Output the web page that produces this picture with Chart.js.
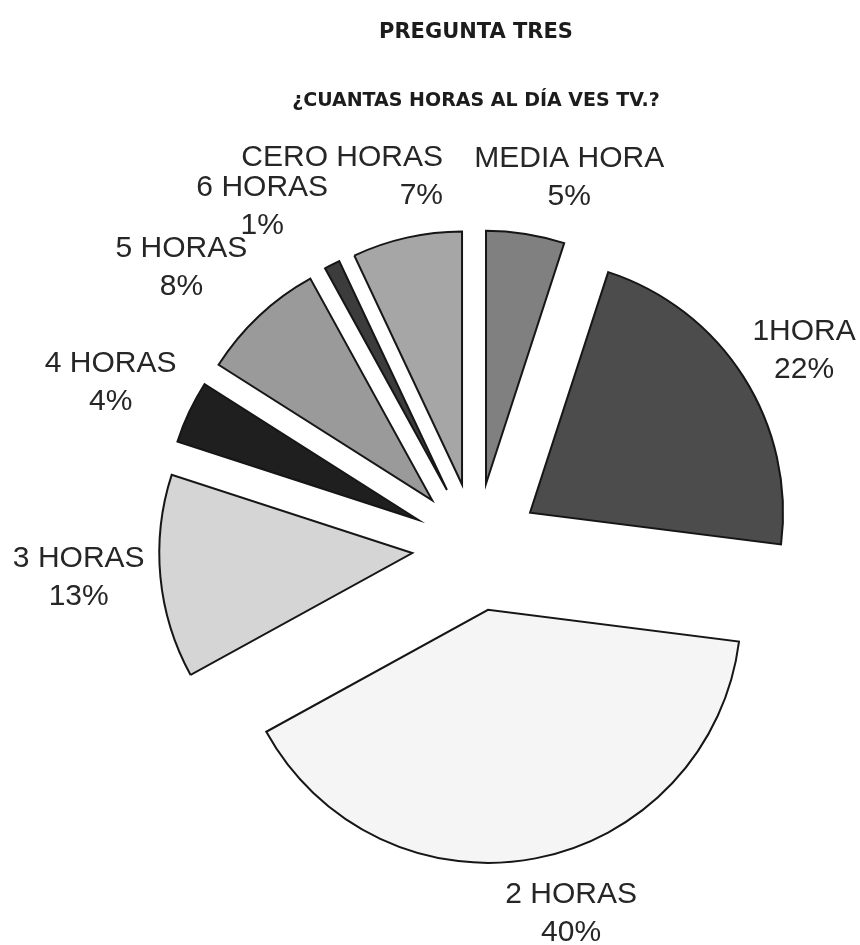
<!DOCTYPE html>
<html lang="es">
<head>
<meta charset="utf-8">
<title>Pregunta tres</title>
<script src="https://cdn.jsdelivr.net/npm/chart.js@4.4.1/dist/chart.umd.min.js"></script>
<style>
  html, body { margin: 0; padding: 0; background: #fff; }
  #wrap { width: 860px; height: 945px; }
</style>
</head>
<body>
<div id="wrap"><canvas id="tv-chart" width="860" height="945"></canvas></div>
<script>
// Respuestas: horas de TV al día (porcentaje de encuestados)
const categorias = ['MEDIA HORA', '1HORA', '2 HORAS', '3 HORAS', '4 HORAS', '5 HORAS', '6 HORAS', 'CERO HORAS'];
const porcentajes = [5, 22, 40, 13, 4, 8, 1, 7];

// Tonos de gris de cada porción
const colores = ['#808080', '#4c4c4c', '#f5f5f5', '#d5d5d5', '#1f1f1f', '#9a9a9a', '#3c3c3c', '#a6a6a6'];

const SEPARACION = 64;   // cuánto se separa cada porción del centro
const DIST_ETIQUETA = 385;
const ALTO_LINEA = 38;

// Ajuste fino de cada etiqueta respecto a su posición sobre la bisectriz
const ajusteEtiquetas = [
  { dx: 33, dy: 11 },                  // MEDIA HORA
  { dx: 3, dy: 10 },                   // 1HORA
  { dx: 23, dy: -11 },                 // 2 HORAS
  { dx: -14, dy: -5 },                 // 3 HORAS
  { dx: -17, dy: 0 },                  // 4 HORAS
  { dx: -31, dy: 1 },                  // 5 HORAS
  { dx: -39, dy: 3 },                  // 6 HORAS
  { dx: 51, dy: 5, align: 'right' }    // CERO HORAS
];

// Dibuja cada porción desplazada hacia afuera (pastel separado)
const porcionesSeparadas = {
  id: 'porcionesSeparadas',
  beforeDatasetDraw(chart, args) {
    const ctx = chart.ctx;
    args.meta.data.forEach(arc => {
      const mitad = (arc.startAngle + arc.endAngle) / 2;
      ctx.save();
      ctx.translate(Math.cos(mitad) * SEPARACION, Math.sin(mitad) * SEPARACION);
      arc.draw(ctx);
      ctx.restore();
    });
    return false;
  }
};

// Etiquetas de categoría y porcentaje alrededor del pastel
const etiquetasPorcion = {
  id: 'etiquetasPorcion',
  afterDatasetsDraw(chart) {
    const ctx = chart.ctx;
    const meta = chart.getDatasetMeta(0);
    ctx.save();
    ctx.font = '30px "Liberation Sans", Arial, sans-serif';
    ctx.fillStyle = '#262626';
    ctx.textBaseline = 'middle';
    meta.data.forEach((arc, i) => {
      const mitad = (arc.startAngle + arc.endAngle) / 2;
      const aj = ajusteEtiquetas[i];
      const x = arc.x + Math.cos(mitad) * DIST_ETIQUETA + aj.dx;
      const y = arc.y + Math.sin(mitad) * DIST_ETIQUETA + aj.dy;
      ctx.textAlign = aj.align || 'center';
      ctx.fillText(categorias[i], x, y - ALTO_LINEA / 2);
      ctx.fillText(porcentajes[i] + '%', x, y + ALTO_LINEA / 2);
    });
    ctx.restore();
  }
};

new Chart(document.getElementById('tv-chart'), {
  type: 'pie',
  data: {
    labels: categorias,
    datasets: [{
      data: porcentajes,
      backgroundColor: colores,
      borderColor: '#161616',
      borderWidth: 2,
      borderJoinStyle: 'miter'
    }]
  },
  options: {
    responsive: false,
    animation: false,
    radius: 253,
    layout: {
      padding: { left: 92, right: 0, top: 0, bottom: 0 }
    },
    plugins: {
      legend: { display: false },
      tooltip: { enabled: false },
      title: {
        display: true,
        text: 'PREGUNTA TRES',
        color: '#1c1c1c',
        font: { family: 'DejaVu Sans', size: 21, weight: 'bold', lineHeight: 1.2 },
        padding: { top: 20, bottom: 0 }
      },
      subtitle: {
        display: true,
        text: '¿CUANTAS HORAS AL DÍA VES TV.?',
        color: '#1c1c1c',
        font: { family: 'DejaVu Sans', size: 19, weight: 'bold', lineHeight: 1.2 },
        padding: { top: 44.4, bottom: 36.6 }
      }
    }
  },
  plugins: [porcionesSeparadas, etiquetasPorcion]
});
</script>
</body>
</html>
